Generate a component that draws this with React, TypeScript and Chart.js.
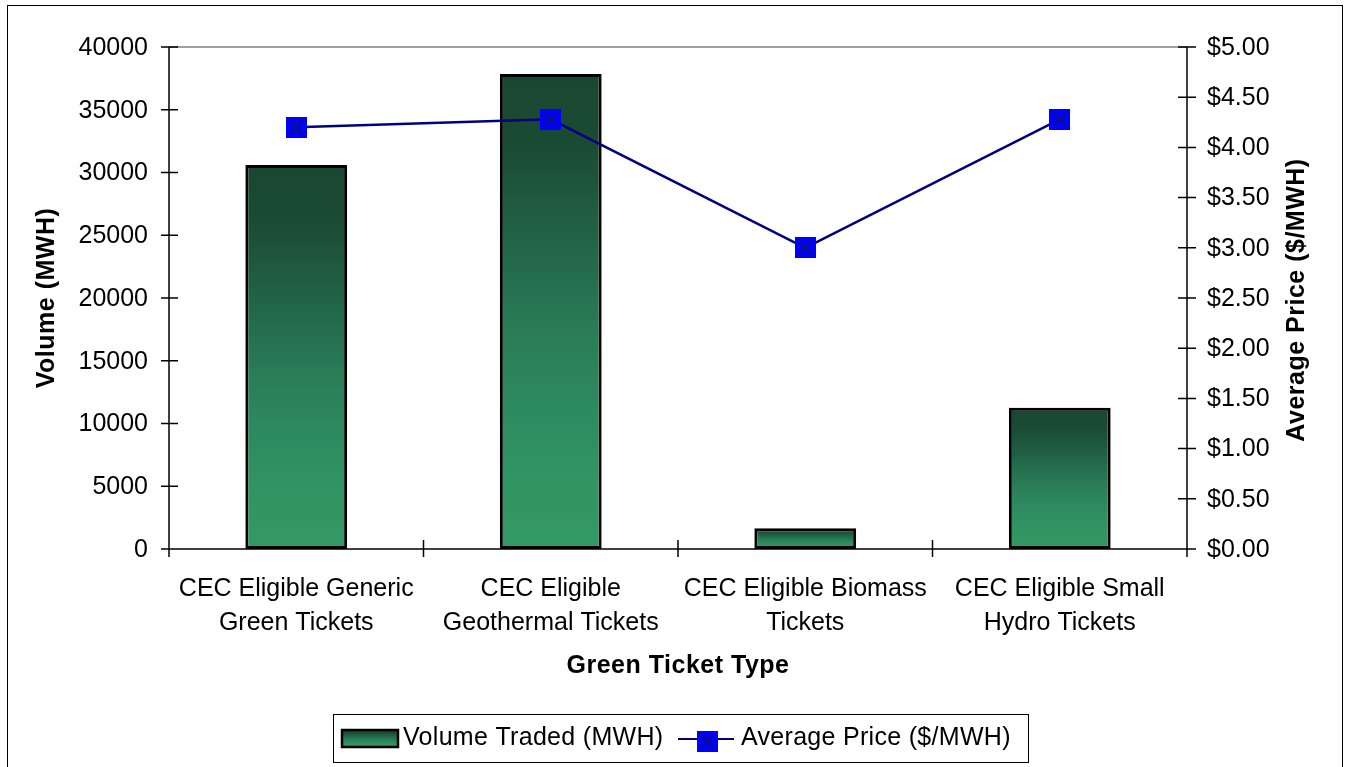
import React, { useEffect, useRef } from "react";
import { Chart, registerables } from "chart.js";

Chart.register(...registerables);

const categories: string[][] = [
  ["CEC Eligible Generic", "Green Tickets"],
  ["CEC Eligible", "Geothermal Tickets"],
  ["CEC Eligible Biomass", "Tickets"],
  ["CEC Eligible Small", "Hydro Tickets"],
];
const volumeTraded: number[] = [30600, 37850, 1650, 11250];
const averagePrice: number[] = [4.2, 4.28, 3.0, 4.28];

const volumeLabel = "Volume Traded (MWH)";
const priceLabel = "Average Price ($/MWH)";
const xTitle = "Green Ticket Type";
const yTitle = "Volume (MWH)";
const y1Title = "Average Price ($/MWH)";

const FONT = "'Liberation Sans', Arial, sans-serif";

function addStops(g: CanvasGradient) {
  g.addColorStop(0, "#1a4631");
  g.addColorStop(0.15, "#1b4b34");
  g.addColorStop(0.4, "#236a4b");
  g.addColorStop(0.55, "#2a7d57");
  g.addColorStop(0.7, "#2e8a5f");
  g.addColorStop(0.85, "#319463");
  g.addColorStop(1, "#339966");
  return g;
}

function makeMarker(size: number) {
  const c = document.createElement("canvas");
  c.width = size;
  c.height = size;
  const g = c.getContext("2d")!;
  g.fillStyle = "#0000ff";
  g.fillRect(0, 0, size, size);
  g.strokeStyle = "#10107a";
  g.lineWidth = 2;
  g.beginPath();
  g.moveTo(4, 4);
  g.lineTo(size - 4, size - 4);
  g.moveTo(size - 4, 4);
  g.lineTo(4, size - 4);
  g.stroke();
  return c;
}

const axesPlugin = {
  id: "excelAxes",
  beforeDatasetsDraw(chart: any) {
    const { ctx, chartArea } = chart;
    const { left, right, top, bottom } = chartArea;
    const x = chart.scales.x;
    const y = chart.scales.y;
    const y1 = chart.scales.y1;
    ctx.save();
    ctx.lineWidth = 1.5;
    ctx.strokeStyle = "#808080";
    ctx.beginPath();
    ctx.moveTo(left, top);
    ctx.lineTo(right, top);
    ctx.stroke();
    ctx.strokeStyle = "#000";
    ctx.beginPath();
    ctx.moveTo(left, top);
    ctx.lineTo(left, bottom);
    ctx.moveTo(right, top);
    ctx.lineTo(right, bottom);
    ctx.moveTo(left, bottom);
    ctx.lineTo(right, bottom);
    for (const t of y.ticks) {
      const p = y.getPixelForValue(t.value);
      ctx.moveTo(left - 8, p);
      ctx.lineTo(left + 9, p);
    }
    for (const t of y1.ticks) {
      const p = y1.getPixelForValue(t.value);
      ctx.moveTo(right - 9, p);
      ctx.lineTo(right + 9, p);
    }
    for (let i = 0; i <= categories.length; i++) {
      const px = x.getPixelForValue(i - 0.5);
      ctx.moveTo(px, bottom - 9);
      ctx.lineTo(px, bottom + 8);
    }
    ctx.stroke();
    ctx.restore();
  },
  afterDraw(chart: any) {
    const { ctx, chartArea } = chart;
    const { left, right, top, bottom } = chartArea;
    const cx = (left + right) / 2;
    const cy = (top + bottom) / 2;
    ctx.save();
    // frame
    ctx.strokeStyle = "#000";
    ctx.lineWidth = 1;
    ctx.strokeRect(7.5, 5.5, 1335, 900);

    // titles
    ctx.fillStyle = "#000";
    ctx.font = `bold 25px ${FONT}`;
    (ctx as any).letterSpacing = "0.5px";
    ctx.textAlign = "center";
    ctx.textBaseline = "middle";
    ctx.fillText(xTitle, cx, 666);
    ctx.save();
    ctx.translate(47, cy);
    ctx.rotate(-Math.PI / 2);
    ctx.fillText(yTitle, 0, 0);
    ctx.restore();
    ctx.save();
    ctx.translate(1297, cy + 2);
    ctx.rotate(-Math.PI / 2);
    ctx.fillText(y1Title, 0, 0);
    ctx.restore();

    // legend
    ctx.lineWidth = 1;
    ctx.strokeStyle = "#000";
    ctx.fillStyle = "#fff";
    ctx.fillRect(333.5, 714.5, 695, 48);
    ctx.strokeRect(333.5, 714.5, 695, 48);
    const sw = addStops(ctx.createLinearGradient(0, 730, 0, 747));
    ctx.fillStyle = sw;
    ctx.fillRect(342, 730, 56, 17);
    ctx.lineWidth = 2.5;
    ctx.strokeRect(342, 730, 56, 17);
    ctx.fillStyle = "#000";
    ctx.font = `25px ${FONT}`;
    (ctx as any).letterSpacing = "0.3px";
    ctx.textAlign = "left";
    ctx.fillText(volumeLabel, 403, 738);
    ctx.strokeStyle = "#000080";
    ctx.lineWidth = 2;
    ctx.beginPath();
    ctx.moveTo(678, 739);
    ctx.lineTo(734, 739);
    ctx.stroke();
    const m = chart.$marker;
    if (m) ctx.drawImage(m, 707 - m.width / 2, 741 - m.height / 2);
    ctx.fillStyle = "#000";
    ctx.fillText(priceLabel, 741, 738);
    ctx.restore();
  },
};

export default function App() {
  const ref = useRef<HTMLCanvasElement | null>(null);
  useEffect(() => {
    if (!ref.current) return;
    const marker = makeMarker(21);
    const chart: any = new Chart(ref.current, {
      type: "bar",
      data: {
        labels: categories,
        datasets: [
          {
            type: "line",
            label: priceLabel,
            data: averagePrice,
            yAxisID: "y1",
            borderColor: "#000080",
            borderWidth: 2.5,
            tension: 0,
            pointStyle: marker,
            pointRadius: 10,
            order: 0,
          } as any,
          {
            type: "bar",
            label: volumeLabel,
            data: volumeTraded,
            yAxisID: "y",
            borderColor: "#000",
            borderWidth: 3,
            borderSkipped: false,
            barPercentage: 0.4,
            categoryPercentage: 1,
            order: 1,
            backgroundColor: (c: any) => {
              const ch = c.chart;
              if (!ch.chartArea || c.type !== "data") return "#339966";
              const ys = ch.scales.y;
              const v = c.parsed ? c.parsed.y : c.raw;
              const yTop = ys.getPixelForValue(v);
              const yBot = ys.getPixelForValue(0);
              return addStops(ch.ctx.createLinearGradient(0, yTop, 0, yBot));
            },
          } as any,
        ],
      },
      options: {
        responsive: false,
        animation: false,
        devicePixelRatio: 1,
        layout: { padding: { top: 47, left: 0, right: 0, bottom: 0 } },
        plugins: {
          legend: { display: false },
          tooltip: { enabled: false },
        },
        scales: {
          x: {
            type: "category",
            offset: true,
            grid: { display: false, drawTicks: false },
            border: { display: false },
            ticks: {
              color: "#000",
              font: { family: FONT, size: 25, lineHeight: 1.36 },
              padding: 23,
              maxRotation: 0,
              autoSkip: false,
            },
            afterFit: (s: any) => {
              s.height = 218;
            },
          },
          y: {
            position: "left",
            min: 0,
            max: 40000,
            grid: { display: false, drawTicks: false },
            border: { display: false },
            ticks: {
              stepSize: 5000,
              color: "#000",
              font: { family: FONT, size: 25 },
              padding: 21,
              labelOffset: 1,
              callback: (v: any) => String(v),
            },
            afterFit: (s: any) => {
              s.width = 169;
            },
          },
          y1: {
            position: "right",
            min: 0,
            max: 5,
            grid: { display: false, drawTicks: false },
            border: { display: false },
            ticks: {
              stepSize: 0.5,
              color: "#000",
              font: { family: FONT, size: 25 },
              padding: 20,
              labelOffset: 1,
              callback: (v: any) => "$" + Number(v).toFixed(2),
            },
            afterFit: (s: any) => {
              s.width = 161;
            },
          },
        },
      },
      plugins: [axesPlugin],
    });
    chart.$marker = marker;
    chart.draw();
    return () => chart.destroy();
  }, []);
  return (
    <div style={{ position: "fixed", left: 0, top: 0, width: 1348, height: 767, background: "#fff" }}>
      <canvas ref={ref} width={1348} height={767} style={{ display: "block" }} />
    </div>
  );
}
